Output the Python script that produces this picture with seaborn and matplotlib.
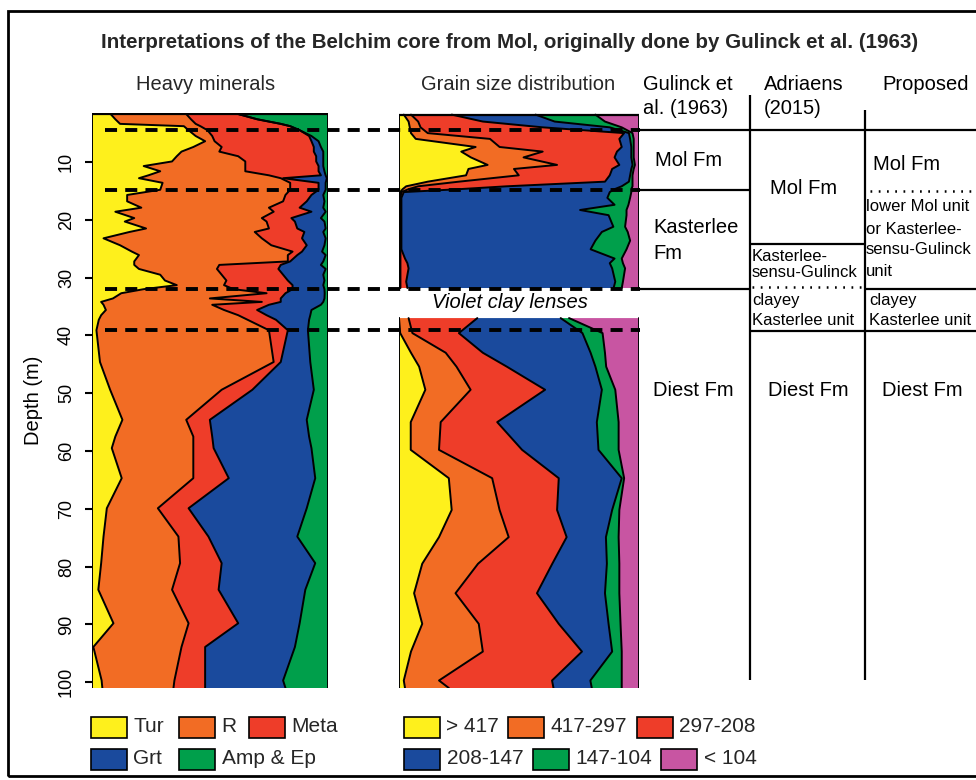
import numpy as np
import matplotlib
matplotlib.use("Agg")
import matplotlib.pyplot as plt
import matplotlib.transforms as mtransforms
from matplotlib.lines import Line2D
from matplotlib.patches import Rectangle
import seaborn as sns

# ---------------- data ----------------
# Heavy minerals (% of heavy mineral assemblage) vs depth (m)
hm_depth = [1.7, 2.6, 3.4, 3.8, 4.5, 5.5, 6.4, 7.4, 8.2, 9.0, 9.9, 10.7, 11.6, 12.3, 12.8,
            13.6, 14.8, 15.7, 16.8, 17.9, 18.6, 19.7, 20.3, 21.5, 22.1, 23.2, 24.4, 25.5,
            26.1, 27.2, 27.8, 28.5, 29.5, 30.5, 31.3, 32.0, 32.7, 33.6, 34.2, 34.7, 35.6,
            36.5, 37.3, 39.1, 44.6, 49.4, 54.6, 57.5, 59.5, 64.7, 69.9, 74.8, 79.4, 84.0,
            89.8, 93.9, 99.7, 101.0]
hm_tur = [8, 10, 12, 39, 41, 44, 48, 43, 38, 36, 34, 22, 29, 24, 20,
          30, 29, 15, 15, 21, 10, 18, 14, 23, 16, 5, 12, 17,
          20, 18, 18, 20, 29, 31, 36, 22, 12.5, 9, 4, 5, 6,
          4, 3, 2, 3.5, 7.8, 13, 10, 8.5, 12.7, 6.4, 5, 4, 2.8,
          9.2, 0.7, 4.2, 4.5]
hm_r = [32, 32, 32, 7, 8, 7, 4, 12, 16, 26, 31, 43, 36, 51, 60,
        54, 55, 67, 66, 54, 67, 54, 60, 52, 53, 67, 64, 68,
        63, 65, 36, 33, 26, 26, 20, 38, 61.5, 41, 68, 46, 50,
        58, 63, 73, 73.5, 47.2, 27, 33, 34.5, 30.3, 21.6, 31.7, 33.4, 31.2,
        31.8, 37.3, 30.8, 30.1]
hm_meta = [22, 28, 36, 38, 39, 41, 41, 39, 40, 33, 30, 31, 31, 22, 1,
           12, 12, 11, 10, 13, 16, 12.5, 12, 12, 21, 17, 15, 4,
           4, 1, 26, 26, 26, 26, 29, 25, 8, 30, 8, 24, 14,
           12, 12, 8, 3, 13, 10, 8, 8.6, 15, 13, 12.7, 17.6, 19.7,
           21, 10, 13, 13.4]
hm_grt = [0, 0, 0, 0, 0, 1, 3, 3, 4, 3, 3, 2, 2.5, 2, 18.5,
          3, 3, 5, 7.5, 10, 6, 12.5, 12.5, 12, 8, 10, 7.5, 8.5,
          12, 14, 17, 20, 17, 15.5, 13, 13.5, 16.6, 18.5, 18, 22, 23,
          18.5, 14, 8.5, 12.5, 26, 41, 41, 41.4, 36.6, 50, 37.6, 39.6, 36.7,
          26, 38, 33, 34]
hm_amp = [38, 30, 20, 16, 12, 7, 4, 3, 2, 2, 2, 2, 1.5, 1, 0.5,
          1, 1, 2, 1.5, 2, 1, 3, 1.5, 1, 2, 1, 1.5, 2.5,
          1, 2, 3, 1, 2, 1.5, 2, 1.5, 1.4, 1.5, 2, 3, 7,
          7.5, 8, 8.5, 7.5, 6, 9, 8, 7, 5.4, 9, 13, 5.4, 9.6,
          12, 14, 19, 18]
hm_names = ["Tur", "R", "Meta", "Grt", "Amp & Ep"]

# Grain size distribution (% per class, micrometre) - upper part (above violet clay lenses)
gs_up_depth = [1.8, 3.0, 4.0, 5.0, 6.0, 7.4, 8.2, 9.2, 10.5, 11.2, 12.3, 13.4, 14.2, 14.7,
               15.2, 16.2, 17.4, 18.3, 19.2, 21.2, 22.1, 23.6, 25.1, 26.7, 27.5, 28.4,
               30.7, 31.8]
gs_up_417 = [2, 4, 4.5, 5, 7, 32, 26, 30, 37, 29, 28, 12, 3, 1.5,
             0.5, 0.3, 0.3, 0.3, 0.3, 0.3, 0.3, 0.3, 0.3, 0.3, 0.3, 0.3, 0.3, 0.3]
gs_up_297 = [3, 4, 4.5, 7, 31, 10, 34, 22, 29, 19, 22, 13, 5, 2.5,
             0.5, 0.3, 0.3, 0.3, 0.3, 0.3, 0.3, 0.3, 0.3, 0.3, 0.3, 0.3, 0.3, 0.3]
gs_up_208 = [17, 27, 51, 82, 54, 51, 31, 38, 26, 41, 38, 61, 37, 21,
             1, 0.4, 0.4, 0.4, 0.4, 0.4, 0.4, 0.4, 0.4, 1.9, 2.9, 3.4, 2.4, 2.9]
gs_up_147 = [35, 30, 28, 2, 4.5, 4, 6, 7, 5.5, 8, 8.5, 10, 48, 65,
             86, 86, 89, 74.6, 86.5, 88.5, 83.7, 81, 79, 87.5, 84.5, 85, 87.3, 86.1]
gs_up_104 = [25, 21, 5, 1.5, 1.5, 1, 1, 1, 1, 1, 1, 1.5, 4.5, 7,
             9, 9.5, 5.8, 19.4, 7.5, 4.9, 10.8, 14.5, 15, 3, 5.5, 5.4, 3.2, 3.4]
gs_up_lt104 = [18, 14, 7, 2.5, 2, 2, 2, 2, 1.5, 2, 2.5, 2.5, 2.5, 3,
               3, 3.5, 4.2, 5, 5, 5.6, 4.5, 3.5, 5, 7, 6.5, 5.6, 6.5, 7]

# Grain size distribution - lower part (below violet clay lenses)
gs_lo_depth = [37.0, 39.6, 43.0, 45.4, 49.4, 55.0, 59.8, 64.7, 70.2, 74.9, 79.5, 84.6,
               89.9, 94.7, 99.7, 101.0]
gs_lo_417 = [0, 0.5, 5, 8.4, 11, 4.9, 4.9, 20.8, 22, 16.7, 9.7, 6.3, 9.7, 5, 2, 2.5]
gs_lo_297 = [4, 5.1, 14.5, 15.6, 18.9, 12.5, 11.8, 18.1, 20, 29.1, 23.3, 17.3, 23.6, 30, 14.7, 18.3]
gs_lo_208 = [28.7, 19.4, 15.5, 21, 31.1, 23.6, 34.7, 27.8, 24, 24.2, 31, 34, 33.4, 41.4, 47.2, 43.7]
gs_lo_147 = [34.8, 51.6, 45, 37, 23.7, 41.6, 31.9, 26.3, 23, 16.4, 22.8, 28.4, 20.8, 12.6, 16, 16]
gs_lo_104 = [3.5, 8.4, 6, 4.5, 5.6, 9.1, 8.4, 1, 3, 5.3, 5.2, 6, 5, 4, 13.1, 12.5]
gs_lo_lt104 = [29, 15, 14, 13.5, 9.7, 8.3, 8.3, 6, 8, 8.3, 8, 8, 7.5, 7, 7, 7]
gs_names = ["> 417", "417-297", "297-208", "208-147", "147-104", "< 104"]

# Formation boundaries (depth, m)
boundary_depths = [4.5, 14.8, 32.0, 39.1]
depth_ticks = [10, 20, 30, 40, 50, 60, 70, 80, 90, 100]

# ---------------- style ----------------
sns.set_theme(style="white")
plt.rcParams["font.family"] = ["Liberation Sans", "DejaVu Sans"]

YELLOW, ORANGE, RED = "#FEF01C", "#F26C24", "#EE3D29"
BLUE, GREEN, MAGENTA = "#1A4A9D", "#009F4B", "#C855A2"
hm_colors = [YELLOW, ORANGE, RED, BLUE, GREEN]
gs_colors = [YELLOW, ORANGE, RED, BLUE, GREEN, MAGENTA]

W, H = 976, 780
fig = plt.figure(figsize=(W / 100, H / 100), dpi=100)
fig.patch.set_facecolor("white")


def fx(px):
    return px / W


def fy(py):
    return 1 - py / H


YTOP, YBOT = 1.52, 101.0
ax_hm = fig.add_axes([fx(91.7), fy(688), fx(328) - fx(91.7), fy(113) - fy(688)])
ax_gs = fig.add_axes([fx(399), fy(688), fx(638.5) - fx(399), fy(113) - fy(688)])
ax_tb = fig.add_axes([fx(640), fy(688), fx(976) - fx(640), fy(113) - fy(688)])


def stacked(ax, depth, comps, colors, top_line=True):
    depth = np.asarray(depth, dtype=float)
    cum = np.zeros_like(depth)
    bounds = [cum.copy()]
    for vals, c in zip(comps, colors):
        new = cum + np.asarray(vals, dtype=float)
        ax.fill_betweenx(depth, cum, new, facecolor=c, edgecolor="none", lw=0, zorder=1)
        cum = new
        bounds.append(cum.copy())
    for b in bounds:
        sns.lineplot(x=b, y=depth, orient="y", sort=False, estimator=None,
                     color="black", lw=1.4, ax=ax, zorder=2)
    if top_line:
        ax.plot([0, 100], [depth[0], depth[0]], color="black", lw=1.6, zorder=2,
                solid_capstyle="butt")


stacked(ax_hm, hm_depth, [hm_tur, hm_r, hm_meta, hm_grt, hm_amp], hm_colors)
stacked(ax_gs, gs_up_depth, [gs_up_417, gs_up_297, gs_up_208, gs_up_147, gs_up_104, gs_up_lt104],
        gs_colors)
stacked(ax_gs, gs_lo_depth, [gs_lo_417, gs_lo_297, gs_lo_208, gs_lo_147, gs_lo_104, gs_lo_lt104],
        gs_colors, top_line=False)

for ax in (ax_hm, ax_gs, ax_tb):
    ax.set_ylim(YBOT, YTOP)
    for s in ax.spines.values():
        s.set_visible(False)
    ax.set_xlabel("")
    ax.set_ylabel("")
    ax.set_xticks([])
    ax.patch.set_alpha(0)
ax_hm.set_xlim(0, 100)
ax_gs.set_xlim(0, 100)
ax_tb.set_xlim(640, 976)
ax_gs.set_yticks([])
ax_tb.set_yticks([])

ax_hm.set_yticks(depth_ticks)
ax_hm.set_yticklabels([str(t) for t in depth_ticks], rotation=90, va="center", fontsize=13)
ax_hm.tick_params(axis="y", which="both", left=True, length=5, width=1.5, color="black",
                  pad=7, labelcolor="black")
ax_hm.set_ylabel("Depth (m)", fontsize=14.5, color="black")
ax_hm.yaxis.set_label_coords((43 - 91.7) / 236.3, 0.5)

ax_gs.text(46.3, 34.3, "Violet clay lenses", ha="center", va="center", style="italic",
           fontsize=14.5, color="black")

# dashed formation boundaries across the two data panels
trans = mtransforms.blended_transform_factory(fig.transFigure, ax_hm.transData)
for d in boundary_depths:
    fig.add_artist(Line2D([fx(105), fx(640)], [d, d], transform=trans, color="black", lw=2.8,
                          linestyle=(0, (3.1, 2.1)), zorder=5))

# ---------------- stratigraphic table ----------------
lkw = dict(color="black", lw=1.6, clip_on=False, solid_capstyle="butt")
dkw = dict(color="black", lw=1.8, clip_on=False, linestyle=(0, (0.7, 2.6)))
ax_tb.plot([750, 750], [-1.6, 99.7], **lkw)
ax_tb.plot([865, 865], [1.0, 99.7], **lkw)
ax_tb.plot([640, 976], [4.5, 4.5], **lkw)
ax_tb.plot([640, 750], [14.9, 14.9], **lkw)
ax_tb.plot([750, 865], [24.1, 24.1], **lkw)
ax_tb.plot([752, 865], [31.6, 31.6], **dkw)
ax_tb.plot([640, 750], [32.0, 32.0], **lkw)
ax_tb.plot([865, 976], [32.0, 32.0], **lkw)
ax_tb.plot([750, 976], [39.2, 39.2], **lkw)
ax_tb.plot([870, 976], [15.0, 15.0], **dkw)

big, small = 14.5, 12
tb_texts = [
    ("Mol Fm", 655, 9.7, big), ("Kasterlee", 653, 21.4, big), ("Fm", 653, 25.9, big),
    ("Diest Fm", 653, 49.6, big),
    ("Mol Fm", 770, 14.5, big), ("Kasterlee-", 752, 26.3, small),
    ("sensu-Gulinck", 752, 29.2, small), ("clayey", 752, 34.0, small),
    ("Kasterlee unit", 752, 37.5, small), ("Diest Fm", 768, 49.6, big),
    ("Mol Fm", 873, 10.5, big), ("lower Mol unit", 866, 17.7, small),
    ("or Kasterlee-", 866, 21.6, small), ("sensu-Gulinck", 866, 25.2, small),
    ("unit", 866, 29.0, small), ("clayey", 869, 34.0, small),
    ("Kasterlee unit", 869, 37.5, small), ("Diest Fm", 882, 49.6, big),
]
for t, x, d, fs in tb_texts:
    ax_tb.text(x, d, t, ha="left", va="center", fontsize=fs, color="black", clip_on=False)

# headers and titles
hdr = [("Gulinck et", 643, 85), ("al. (1963)", 643, 109), ("Adriaens", 764, 85),
       ("(2015)", 764, 109), ("Proposed", 882, 85)]
for t, x, y in hdr:
    fig.text(fx(x), fy(y), t, ha="left", va="center", fontsize=14.5, color="black")
fig.text(fx(206), fy(84), "Heavy minerals", ha="center", va="center", fontsize=14.5)
fig.text(fx(518), fy(84), "Grain size distribution", ha="center", va="center", fontsize=14.5)
fig.text(fx(510), fy(42), "Interpretations of the Belchim core from Mol, originally done by Gulinck et al. (1963)",
         ha="center", va="center", fontsize=14.8, fontweight="bold")

# frame
fig.add_artist(Rectangle((fx(8), fy(776)), 1.5, fy(11) - fy(776), transform=fig.transFigure,
                         fill=False, ec="black", lw=2, zorder=0))

# legends (manual swatches)
SW, SH = 36, 21


def swatch(x0, yc, color, label):
    fig.add_artist(Rectangle((fx(x0), fy(yc + SH / 2)), fx(SW), SH / H,
                             transform=fig.transFigure, facecolor=color,
                             edgecolor="black", lw=1.2))
    fig.text(fx(x0 + SW + 6.5), fy(yc), label, ha="left", va="center", fontsize=15)


hm_leg_x = [91, 179, 249, 91, 179]
hm_leg_y = [727, 727, 727, 759, 759]
for x, y, c, n in zip(hm_leg_x, hm_leg_y, hm_colors, hm_names):
    swatch(x, y, c, n)
gs_leg_x = [404, 508, 637, 404, 533, 661]
gs_leg_y = [727, 727, 727, 759, 759, 759]
for x, y, c, n in zip(gs_leg_x, gs_leg_y, gs_colors, gs_names):
    swatch(x, y, c, n)

fig.savefig("out.png", dpi=100)
